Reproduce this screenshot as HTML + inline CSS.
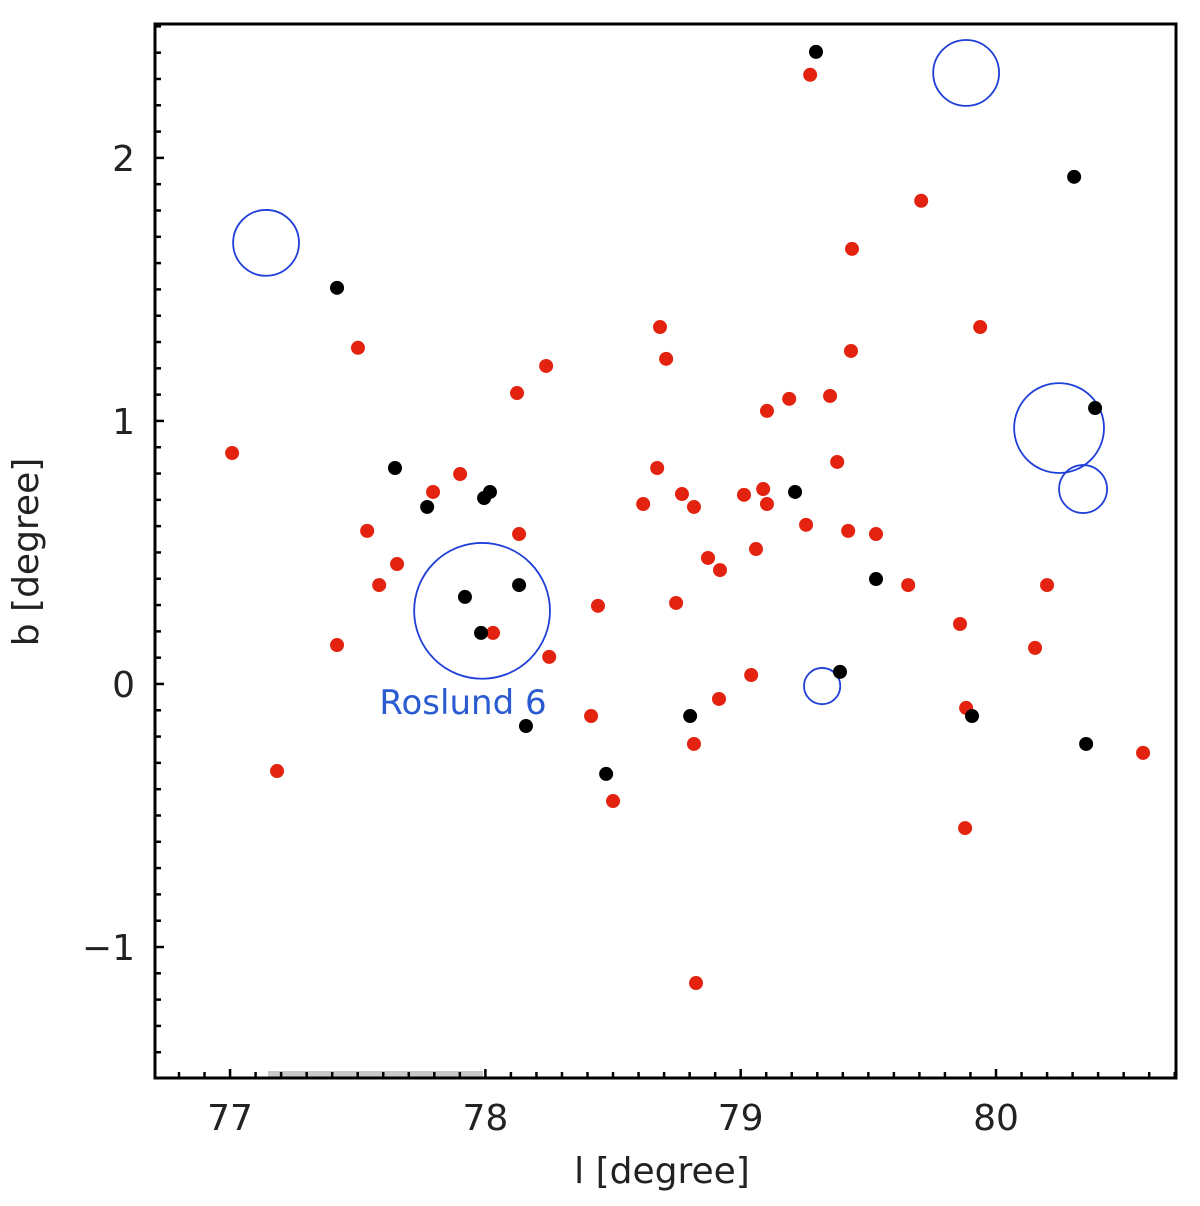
<!DOCTYPE html>
<html><head><meta charset="utf-8"><style>
html,body{margin:0;padding:0;background:#fff;}
svg{display:block;font-family:"DejaVu Sans","Liberation Sans",sans-serif;}
</style></head>
<body>
<svg id="chart" width="1200" height="1206" viewBox="0 0 1200 1206"></svg>
<script>
const redL=[79.272,79.707,79.436,79.938,79.432,78.684,78.708,78.238,78.124,77.501,77.008,79.350,79.190,79.103,79.378,78.673,78.770,78.817,78.618,79.013,79.088,79.103,79.256,79.421,79.530,79.060,78.872,78.919,78.747,78.441,79.656,80.200,79.859,80.153,79.041,78.915,78.414,78.817,79.883,80.576,78.500,79.879,78.825,77.184,77.419,78.250,78.030,78.132,77.901,77.795,77.537,77.654,77.584];
const redB=[2.316,1.837,1.654,1.357,1.266,1.357,1.236,1.209,1.106,1.278,0.878,1.095,1.084,1.038,0.844,0.821,0.722,0.673,0.684,0.719,0.741,0.684,0.605,0.582,0.570,0.513,0.479,0.433,0.308,0.297,0.376,0.376,0.228,0.137,0.034,-0.057,-0.122,-0.228,-0.091,-0.262,-0.445,-0.548,-1.137,-0.331,0.148,0.103,0.194,0.570,0.798,0.730,0.582,0.456,0.376];
const blackL=[79.295,80.306,77.419,80.388,77.646,77.772,78.018,77.995,79.213,79.530,78.132,77.920,77.983,79.389,78.802,79.906,78.159,78.473,80.353];
const blackB=[2.403,1.928,1.506,1.049,0.821,0.673,0.730,0.707,0.730,0.399,0.376,0.331,0.194,0.046,-0.122,-0.122,-0.160,-0.342,-0.228];
const circL=[79.883,77.141,80.247,80.341,77.987,79.319];
const circB=[2.323,1.677,0.973,0.741,0.278,-0.008];
const circR=[0.129,0.129,0.176,0.094,0.266,0.071];
const xTicks=[77,78,79,80];
const yTicks=[-1,0,1,2];

const NS="http://www.w3.org/2000/svg";
const svg=document.getElementById('chart');
const X0=155,X1=1176,Y0=24,Y1=1078;
const lMin=76.706,lMax=80.705,bMin=-1.498,bMax=2.509;
const sx=v=>X0+(v-lMin)/(lMax-lMin)*(X1-X0);
const sy=v=>Y1-(v-bMin)/(bMax-bMin)*(Y1-Y0);
function mk(tag,a){const e=document.createElementNS(NS,tag);for(const k in a)e.setAttribute(k,a[k]);svg.appendChild(e);return e;}

let e=mk('rect',{x:268,y:1071,width:215,height:6,fill:'#c8c8c8'});



for(let i=0;i<circL.length;i++){
  e=mk('circle',{cx:sx(circL[i]),cy:sy(circB[i]),r:circR[i]*(sx(1)-sx(0)),fill:'none',stroke:'#1f3fd8','stroke-width':1.8});
  
  
}
for(let i=0;i<redL.length;i++){
  e=mk('circle',{cx:sx(redL[i]),cy:sy(redB[i]),r:7,fill:'#e3230f'});
  
  
}
for(let i=0;i<blackL.length;i++){
  e=mk('circle',{cx:sx(blackL[i]),cy:sy(blackB[i]),r:7,fill:'#000'});
  
  
}
e=mk('text',{x:463,y:714,'font-size':34,fill:'#2a5bd0','text-anchor':'middle'});
e.textContent='Roslund 6';



e=mk('rect',{x:X0,y:Y0,width:X1-X0,height:Y1-Y0,fill:'none',stroke:'#000','stroke-width':3});



for(let k=Math.ceil(lMin*10);k<=Math.floor(lMax*10);k++){
  const major=k%10===0, x=sx(k/10);
  e=mk('line',{x1:x,x2:x,y1:Y1,y2:Y1-(major?9:6),stroke:'#000','stroke-width':2.5});
  
  
}
for(let k=Math.ceil(bMin*10);k<=Math.floor(bMax*10);k++){
  const major=k%10===0, y=sy(k/10);
  e=mk('line',{x1:X0,x2:X0+(major?9:6),y1:y,y2:y,stroke:'#000','stroke-width':2.5});
  
  
}
xTicks.forEach(v=>{
  e=mk('text',{x:sx(v),y:1130,'font-size':36,'text-anchor':'middle',fill:'#222'});
  e.textContent=String(v);
  
  
});
yTicks.forEach(v=>{
  e=mk('text',{x:135,y:sy(v)+13,'font-size':36,'text-anchor':'end',fill:'#222'});
  e.textContent=v<0?'\u2212'+Math.abs(v):String(v);
  
  
});
e=mk('text',{x:662,y:1183,'font-size':36,'text-anchor':'middle',fill:'#222'});
e.textContent='l [degree]';


e=mk('text',{x:0,y:0,'font-size':36,'text-anchor':'middle',fill:'#222',transform:'translate(38,552) rotate(-90)'});
e.textContent='b [degree]';


</script>
</body></html>
